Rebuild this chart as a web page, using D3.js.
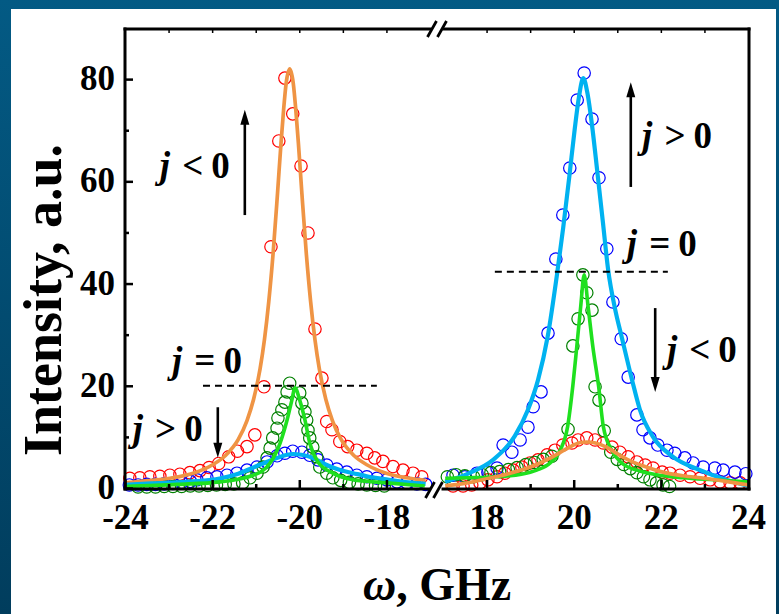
<!DOCTYPE html>
<html><head><meta charset="utf-8">
<script src="https://cdn.jsdelivr.net/npm/d3@7"></script>
<style>html,body{margin:0;padding:0;overflow:hidden;background:#fff}</style>
</head><body><svg id="c" width="779" height="614"></svg>
<script>
// ---------------- DATA ----------------
const xDomainLeft = [-24, -17];
const xDomainRight = [17, 24];
const yDomain = [0, 90];
const xTicksLeft = [-24, -22, -20, -18];
const xTicksRight = [18, 20, 22, 24];
const xMinorLeft = [-23, -21, -19];
const xMinorRight = [19, 21, 23];
const xTopLeft = [-23, -22, -21, -20, -19, -18];
const xTopRight = [18, 19, 20, 21, 22, 23];
const yTicks = [0, 20, 40, 60, 80];
const yMinor = [10, 30, 50, 70];

// measured points (circles), [omega, intensity]
const leftRed = [[-23.89,1.9],[-23.66,2.0],[-23.43,2.2],[-23.2,2.3],[-22.97,2.5],[-22.74,2.7],[-22.51,3.0],[-22.28,3.4],[-22.07,4.0],[-21.85,4.8],[-21.62,6.1],[-21.42,7.2],[-21.2,8.1],[-21.02,10.4],[-20.81,19.8],[-20.65,47.2],[-20.47,67.9],[-20.33,80.2],[-20.15,73.2],[-19.96,63.0],[-19.8,49.9],[-19.64,31.1],[-19.48,21.5],[-19.37,13.0],[-19.25,11.4],[-19.07,9.1],[-18.89,8.1],[-18.68,7.4],[-18.45,6.8],[-18.27,5.9],[-18.08,5.2],[-17.85,4.2],[-17.62,3.5],[-17.39,2.9],[-17.19,2.2]];
const leftBlue = [[-23.9,0.6],[-23.7,0.6],[-23.5,0.7],[-23.3,0.7],[-23.1,0.8],[-22.9,0.9],[-22.7,1.1],[-22.5,1.3],[-22.35,1.6],[-22.12,2.0],[-21.89,2.2],[-21.66,2.5],[-21.43,2.9],[-21.2,3.5],[-20.97,4.1],[-20.74,5.1],[-20.51,6.3],[-20.33,6.8],[-20.15,7.2],[-19.94,7.0],[-19.76,6.4],[-19.57,5.5],[-19.37,4.5],[-19.14,3.7],[-18.91,3.1],[-18.68,2.5],[-18.45,2.2],[-18.22,1.9],[-17.99,1.6],[-17.76,1.2],[-17.53,1.0],[-17.3,0.8],[-17.1,0.7]];
const leftGreen = [[-23.7,0.2],[-23.5,0.2],[-23.3,0.2],[-23.1,0.3],[-22.9,0.3],[-22.7,0.3],[-22.5,0.4],[-22.3,0.4],[-22.1,0.5],[-21.9,0.6],[-21.7,0.7],[-21.5,0.8],[-21.3,1.0],[-21.13,2.0],[-20.97,2.9],[-20.83,4.1],[-20.74,5.9],[-20.67,7.8],[-20.61,9.8],[-20.51,11.7],[-20.49,13.7],[-20.4,15.3],[-20.33,16.8],[-20.28,18.8],[-20.22,20.5],[-19.99,18.6],[-19.94,16.6],[-19.87,14.9],[-19.83,13.3],[-19.8,11.3],[-19.76,9.8],[-19.69,8.0],[-19.6,6.1],[-19.53,4.1],[-19.37,2.9],[-19.23,2.0],[-19.05,1.5],[-18.85,1.1],[-18.65,0.8],[-18.45,0.6],[-18.25,0.5],[-18.05,0.4]];
const rightBlue = [[17.23,2.5],[17.5,2.2],[17.78,2.9],[18.03,3.1],[18.24,3.9],[18.38,8.4],[18.58,7.0],[18.77,9.4],[18.95,11.9],[19.07,15.9],[19.25,18.8],[19.41,30.3],[19.59,44.8],[19.75,53.4],[19.91,62.6],[20.08,75.9],[20.24,81.2],[20.42,72.2],[20.58,60.7],[20.76,46.8],[20.9,36.4],[21.09,29.2],[21.25,21.7],[21.45,14.3],[21.59,11.4],[21.75,9.8],[21.93,8.4],[22.14,7.4],[22.32,6.8],[22.55,5.9],[22.74,4.9],[22.97,4.1],[23.24,3.9],[23.43,3.5],[23.7,3.1],[23.95,2.8]];
const rightRed = [[17.23,0.4],[17.46,0.4],[17.66,0.6],[17.85,1.0],[18.03,1.6],[18.24,2.2],[18.42,2.9],[18.61,3.5],[18.81,4.1],[19.0,4.9],[19.18,5.5],[19.39,6.5],[19.57,7.4],[19.75,8.4],[19.96,8.8],[20.1,9.4],[20.3,9.8],[20.49,9.4],[20.68,8.8],[20.88,8.0],[21.06,7.0],[21.25,6.1],[21.45,5.1],[21.64,4.5],[21.82,3.9],[22.03,3.1],[22.21,2.9],[22.44,2.5],[22.67,2.2],[22.9,1.9],[23.13,1.6],[23.36,1.2],[23.59,1.0],[23.82,1.0]];
const rightGreen = [[17.1,2.2],[17.3,2.6],[17.5,2.4],[17.7,2.2],[17.9,2.6],[18.1,3.0],[18.3,3.2],[18.5,3.6],[18.7,4.0],[18.9,4.6],[19.1,5.0],[19.3,5.6],[19.5,6.2],[19.87,11.5],[19.98,27.8],[20.1,33.1],[20.21,41.7],[20.3,38.2],[20.42,34.8],[20.49,19.8],[20.58,17.2],[20.7,11.2],[20.85,7.0],[21.0,5.6],[21.15,4.6],[21.3,3.8],[21.45,3.0],[21.6,2.2],[21.75,1.6],[21.9,1.0],[22.05,0.6],[22.2,0.3]];

// fitted curves, [omega, intensity]
const leftOrangeFit = [[-24,1.0],[-23.4,1.5],[-22.9,2.0],[-22.4,3.0],[-22.0,4.5],[-21.7,6.3],[-21.4,9.5],[-21.2,13.2],[-21.05,17.3],[-20.9,23.3],[-20.8,29.0],[-20.7,36.5],[-20.6,46],[-20.5,57.6],[-20.42,67.4],[-20.36,74.0],[-20.3,79.3],[-20.22,82],[-20.14,79.3],[-20.08,74.0],[-20.02,67.4],[-19.94,57.6],[-19.84,46],[-19.74,36.5],[-19.64,29.0],[-19.54,23.3],[-19.39,17.3],[-19.24,13.2],[-19.04,9.5],[-18.74,6.3],[-18.44,4.5],[-18.04,3.0],[-17.54,2.0],[-17.1,1.5]];
const leftCyanFit = [[-24,0.6],[-23.4,0.9],[-22.6,1.2],[-21.8,1.9],[-21.4,2.8],[-21.0,4.2],[-20.75,5.1],[-20.5,5.9],[-20.3,6.45],[-20.14,6.65],[-19.95,6.5],[-19.76,6.1],[-19.55,5.3],[-19.37,4.5],[-19.1,3.6],[-18.76,2.9],[-18.4,2.2],[-18.0,1.7],[-17.5,1.1],[-17.1,0.8]];
const leftGreenFit = [[-24,0.3],[-22.8,0.7],[-21.82,1.2],[-21.06,2.5],[-20.67,4.9],[-20.44,8.8],[-20.28,13.3],[-20.17,17.2],[-20.1,19.6],[-19.99,17.2],[-19.87,13.3],[-19.76,8.8],[-19.57,5.1],[-19.23,2.9],[-18.77,1.6],[-17.99,1.0],[-17.12,0.4]];
const rightCyanFit = [[17.05,1.2],[17.6,2.9],[18.15,5.5],[18.65,10.2],[18.95,15.3],[19.18,21.1],[19.4,29.5],[19.62,42],[19.76,51],[19.9,61],[20.02,70],[20.12,76.5],[20.22,80.2],[20.32,77],[20.42,71],[20.54,62],[20.67,52],[20.79,42.7],[20.95,35],[21.1,29.6],[21.34,21.1],[21.52,15.3],[21.82,10.0],[22.28,6.1],[22.9,3.5],[23.5,1.6],[24,0.4]];
const rightGreenFit = [[17.05,1.9],[17.6,2.0],[18.2,2.2],[18.8,2.7],[19.15,3.5],[19.46,4.9],[19.69,7.4],[19.86,12],[19.98,20],[20.07,27.6],[20.16,35.5],[20.24,41.7],[20.33,35.5],[20.44,27.6],[20.57,20],[20.68,12],[20.87,7.4],[21.1,4.9],[21.45,3.5],[21.9,2.6],[22.5,2.0],[23.2,1.6],[24,1.2]];
const rightOrangeFit = [[17.05,0.4],[17.5,0.9],[18,1.8],[18.5,2.8],[19,4.1],[19.4,5.6],[19.7,7.0],[19.95,8.2],[20.15,8.9],[20.3,9.0],[20.5,8.8],[20.75,8.0],[21.0,6.7],[21.3,5.3],[21.6,4.3],[22,3.2],[22.5,2.4],[23,1.9],[23.5,1.3],[24,0.6]];

// annotations (data coordinates)
const dashLeft = [[-22.21,20],[-18.22,20]];
const dashRight = [[18.19,42.3],[22.16,42.3]];
const labelTexts = ["j < 0","j = 0","j > 0","j > 0","j = 0","j < 0"];

// ---------------- DRAW ----------------
const FONT = "'Liberation Serif','Times New Roman',serif";
const svg = d3.select("#c");
const defs = svg.append("defs");
const grad = defs.append("linearGradient").attr("id","bg").attr("x1",0).attr("y1",0).attr("x2",0).attr("y2",1);
grad.append("stop").attr("offset","0%").attr("stop-color","#035a84");
grad.append("stop").attr("offset","100%").attr("stop-color","#013d5d");
svg.append("rect").attr("width",779).attr("height",614).attr("fill","url(#bg)");
svg.append("rect").attr("x",11).attr("y",9).attr("width",765).attr("height",605).attr("fill","#fff");

const xL = d3.scaleLinear().domain(xDomainLeft).range([125,430]);
const xR = d3.scaleLinear().domain(xDomainRight).range([443,748]);
const y = d3.scaleLinear().domain(yDomain).range([488,28]);

const C = {red:"#ff0000", blue:"#0000ff", green:"#008000", orange:"#ef9444", cyan:"#00b2f0", lime:"#1fe01f"};

function circles(data, xs, color){
  svg.append("g").selectAll("circle").data(data).join("circle")
    .attr("cx", d=>xs(d[0])).attr("cy", d=>y(d[1])).attr("r",6.2)
    .attr("fill","none").attr("stroke",color).attr("stroke-width",1.2);
}
function curve(data, xs, color, w){
  const line = d3.line().x(d=>xs(d[0])).y(d=>y(d[1])).curve(d3.curveMonotoneX);
  svg.append("path").datum(data).attr("d",line).attr("fill","none")
    .attr("stroke",color).attr("stroke-width",w).attr("stroke-linejoin","round");
}

circles(leftRed, xL, C.red);
circles(leftBlue, xL, C.blue);
circles(leftGreen, xL, C.green);
circles(rightRed, xR, C.red);
circles(rightBlue, xR, C.blue);
circles(rightGreen, xR, C.green);

curve(leftOrangeFit, xL, C.orange, 3.7);
curve(leftCyanFit, xL, C.cyan, 4.2);
curve(leftGreenFit, xL, C.lime, 3.6);
curve(rightCyanFit, xR, C.cyan, 4.2);
curve(rightGreenFit, xR, C.lime, 3.6);
curve(rightOrangeFit, xR, C.orange, 3.7);

// dashed lines
[[dashLeft,xL],[dashRight,xR]].forEach(([d,xs])=>{
  svg.append("line").attr("x1",xs(d[0][0])).attr("x2",xs(d[1][0]))
    .attr("y1",y(d[0][1])).attr("y2",y(d[1][1]))
    .attr("stroke","#000").attr("stroke-width",2).attr("stroke-dasharray","7,5");
});

// arrows (data coords: x, yFrom, yTo)
const arrows = [[xL,-21.25,53.4,74.0],[xL,-21.87,15.8,5.9],[xR,21.31,58.9,79.4],[xR,21.87,35.2,18.8]];
arrows.forEach(([xs,xv,y0,y1])=>{
  const px = xs(xv), a = y(y0), b = y(y1);
  const dir = b < a ? 1 : -1; // 1 => pointing up
  svg.append("line").attr("x1",px).attr("x2",px).attr("y1",a).attr("y2",b+dir*10)
    .attr("stroke","#000").attr("stroke-width",2.6);
  svg.append("path").attr("d",`M${px},${b}L${px-4.5},${b+dir*15}L${px+4.5},${b+dir*15}Z`).attr("fill","#000");
});

// labels
const labelPos = [[xL,-23.2,60.65],[xL,-22.92,22.5],[xL,-23.82,9.2],[xR,21.57,66.5],[xR,21.22,45.4],[xR,22.14,24.65]];
labelPos.forEach(([xs,xv,yv],i)=>{
  const parts = labelTexts[i].split(" ");
  const t = svg.append("text").attr("x",xs(xv)).attr("y",y(yv))
    .attr("font-family",FONT).attr("font-weight","bold").attr("font-size",37).attr("fill","#000");
  t.append("tspan").attr("font-style","italic").text(parts[0]);
  t.append("tspan").attr("dx",12).text(parts[1]);
  t.append("tspan").attr("dx",8).text(parts[2]);
});

// axes
function styleAxis(g){
  g.select(".domain").remove();
  g.selectAll(".tick line").attr("stroke","#000").attr("stroke-width",2.5);
  g.selectAll("text").attr("font-family",FONT).attr("font-weight","bold").attr("font-size",35).attr("fill","#000");
}
const fmt = d=>String(d);
[[xL,xTicksLeft,xMinorLeft],[xR,xTicksRight,xMinorRight]].forEach(([xs,maj,min])=>{
  const g = svg.append("g").attr("transform",`translate(0,${y(0)+1})`)
    .call(d3.axisBottom(xs).tickValues(maj).tickSize(-9).tickFormat(fmt));
  styleAxis(g);
  g.selectAll("text").attr("y",40).attr("dy",null);
  const gm = svg.append("g").attr("transform",`translate(0,${y(0)+1})`)
    .call(d3.axisBottom(xs).tickValues(min).tickSize(-5).tickFormat(""));
  styleAxis(gm);
});
[[xL,xTopLeft],[xR,xTopRight]].forEach(([xs,vals])=>{
  const g = svg.append("g").attr("transform",`translate(0,${y(90)+1})`)
    .call(d3.axisTop(xs).tickValues(vals).tickSize(-4).tickFormat(""));
  styleAxis(g);
  g.selectAll(".tick line").attr("stroke-width",1.5);
});
const gy = svg.append("g").attr("transform","translate(125,0)")
  .call(d3.axisLeft(y).tickValues(yTicks).tickSize(-8).tickPadding(10).tickFormat(fmt));
styleAxis(gy);
gy.selectAll("text").attr("dy","0.3em");
const gym = svg.append("g").attr("transform","translate(125,0)")
  .call(d3.axisLeft(y).tickValues(yMinor).tickSize(-4).tickFormat(""));
styleAxis(gym);

// frame
const yTop = y(90)+1, yBot = y(0)+1;
const frame = svg.append("g").attr("stroke","#000").attr("stroke-width",3).attr("stroke-linecap","square");
frame.append("line").attr("x1",125).attr("x2",125).attr("y1",yTop).attr("y2",yBot);
frame.append("line").attr("x1",749).attr("x2",749).attr("y1",yTop).attr("y2",yBot);
frame.append("line").attr("x1",125).attr("x2",430).attr("y1",yTop).attr("y2",yTop);
frame.append("line").attr("x1",444).attr("x2",749).attr("y1",yTop).attr("y2",yTop);
frame.append("line").attr("x1",125).attr("x2",429).attr("y1",yBot).attr("y2",yBot);
frame.append("line").attr("x1",443).attr("x2",749).attr("y1",yBot).attr("y2",yBot);
// break marks
const brk = svg.append("g").attr("stroke","#000").attr("stroke-width",2.8);
[[432,yTop],[442,yTop],[430,yBot+1],[438,yBot+1]].forEach(([cx,cy])=>{
  brk.append("line").attr("x1",cx-4.5).attr("y1",cy+8).attr("x2",cx+4.5).attr("y2",cy-8);
});

// axis titles
svg.append("text").attr("transform","translate(61,300) rotate(-90)").attr("text-anchor","middle")
  .attr("font-family",FONT).attr("font-weight","bold").attr("font-size",54).attr("fill","#000")
  .text("Intensity, a.u.");
const xt = svg.append("text").attr("x",437).attr("y",600).attr("text-anchor","middle")
  .attr("font-family",FONT).attr("font-weight","bold").attr("font-size",46).attr("fill","#000");
xt.append("tspan").attr("font-style","italic").text("ω");
xt.append("tspan").text(", GHz");
</script></body></html>
